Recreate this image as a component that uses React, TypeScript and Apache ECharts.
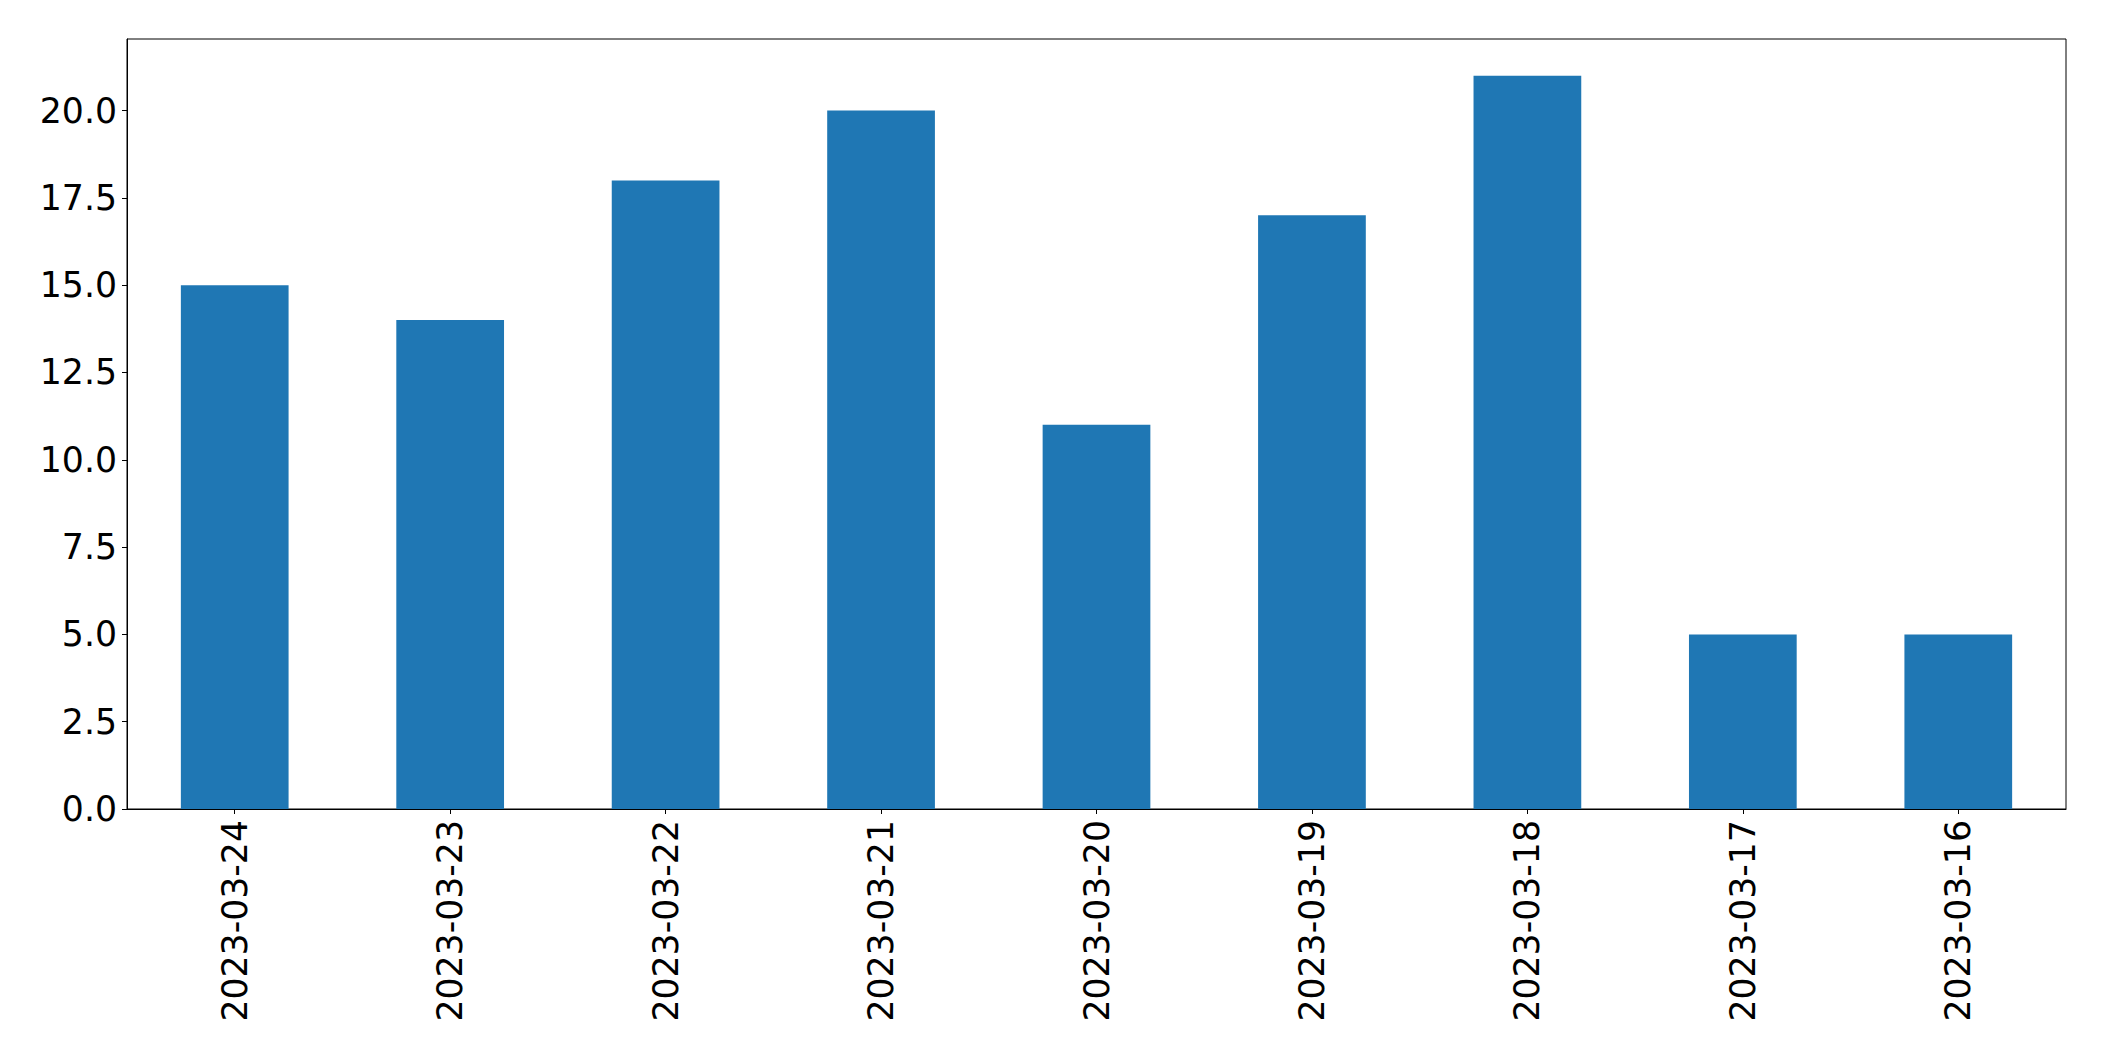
import React, { useEffect, useRef } from "react";
import * as echarts from "echarts";

const categories = [
  "2023-03-24",
  "2023-03-23",
  "2023-03-22",
  "2023-03-21",
  "2023-03-20",
  "2023-03-19",
  "2023-03-18",
  "2023-03-17",
  "2023-03-16",
];
const values = [15, 14, 18, 20, 11, 17, 21, 5, 5];
const yTicks = [0, 2.5, 5, 7.5, 10, 12.5, 15, 17.5, 20];
const yMax = 22.05;

export default function App() {
  const ref = useRef<HTMLDivElement>(null);
  useEffect(() => {
    if (!ref.current) return;
    const chart = echarts.init(ref.current, undefined, { renderer: "svg" });
    const font = "DejaVu Sans";
    chart.setOption({
      animation: false,
      backgroundColor: "#ffffff",
      grid: {
        left: 127,
        top: 39,
        right: 38,
        bottom: 252,
        show: true,
        borderColor: "#000000",
        borderWidth: 1,
        backgroundColor: "transparent",
      },
      xAxis: {
        type: "category",
        data: categories,
        axisLine: { show: true, lineStyle: { color: "#000000", width: 1 } },
        axisTick: { show: true, alignWithLabel: true, length: 5, lineStyle: { color: "#000000" } },
        axisLabel: {
          rotate: 90,
          margin: 11,
          color: "#000000",
          fontFamily: font,
          fontSize: 34.7,
          interval: 0,
        },
        splitLine: { show: false },
      },
      yAxis: {
        type: "value",
        min: 0,
        max: yMax,
        axisLine: { show: true, lineStyle: { color: "#000000", width: 1 } },
        axisTick: {
          show: true,
          length: 5,
          lineStyle: { color: "#000000" },
          customValues: yTicks,
        },
        axisLabel: {
          margin: 10,
          color: "#000000",
          fontFamily: font,
          fontSize: 34.7,
          customValues: yTicks,
          formatter: (v: number) => v.toFixed(1),
        },
        splitLine: { show: false },
      },
      series: [
        {
          type: "bar",
          data: values,
          barWidth: "50%",
          itemStyle: { color: "#1f77b4" },
        },
      ],
    });
    return () => chart.dispose();
  }, []);
  return (
    <div
      ref={ref}
      style={{ position: "absolute", left: 0, top: 0, width: 2104, height: 1061 }}
    />
  );
}
